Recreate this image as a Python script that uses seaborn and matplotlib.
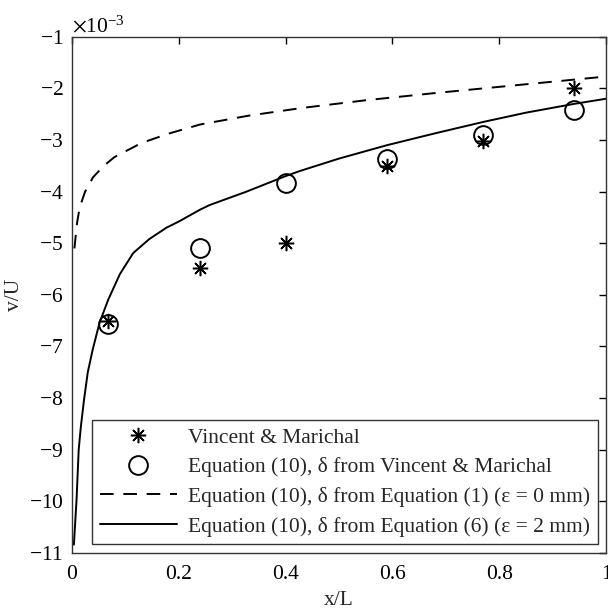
import numpy as np
import matplotlib
matplotlib.use("Agg")
import matplotlib.pyplot as plt
from matplotlib.ticker import ScalarFormatter
import seaborn as sns

# measured points (Vincent & Marichal) and Eq.(10) with their delta
x_meas = [0.068, 0.24, 0.40, 0.59, 0.77, 0.94]
y_star = [-6.50, -5.48, -4.99, -3.51, -3.01, -1.99]
y_circ = [-6.56, -5.09, -3.84, -3.37, -2.90, -2.41]

# Eq.(10), delta from Eq.(1), eps = 0 mm
x_eq1 = [0.005, 0.01, 0.015, 0.025, 0.04, 0.06, 0.08, 0.13, 0.18, 0.24,
         0.33, 0.43, 0.55, 0.68, 0.8, 0.9, 1.0]
y_eq1 = [-5.1, -4.6, -4.3, -4.0, -3.72, -3.5, -3.33, -3.06, -2.88, -2.70,
         -2.53, -2.38, -2.23, -2.09, -1.97, -1.87, -1.77]

# Eq.(10), delta from Eq.(6), eps = 2 mm
x_eq6 = [0.004, 0.009, 0.013, 0.017, 0.023, 0.03, 0.039, 0.052, 0.068, 0.09,
         0.115, 0.145, 0.177, 0.202, 0.24, 0.258, 0.327, 0.40, 0.427, 0.50,
         0.59, 0.68, 0.77, 0.85, 0.94, 1.0]
y_eq6 = [-10.84, -9.97, -9.0, -8.56, -8.03, -7.5, -7.07, -6.54, -6.10, -5.6,
         -5.19, -4.92, -4.70, -4.57, -4.35, -4.26, -4.0, -3.70, -3.60, -3.36,
         -3.10, -2.87, -2.65, -2.47, -2.30, -2.20]

scale = 1e-3
FS = 15.5

sns.set_theme(style="white")
plt.rcParams['font.family'] = ['Liberation Serif', 'DejaVu Serif']
plt.rcParams['mathtext.fontset'] = 'stix'
plt.rcParams['font.size'] = FS

fig = plt.figure(figsize=(6.08, 6.13), dpi=100)
ax = fig.add_axes([0.118, 0.098, 0.879, 0.842])

# markers
ax.plot(x_meas, np.array(y_star) * scale, linestyle='none',
        marker=(8, 2, 0), markersize=11, markeredgewidth=1.1,
        color='black', label='Vincent & Marichal')
ax.plot(x_meas, np.array(y_circ) * scale, linestyle='none',
        marker='o', markersize=13.5, markerfacecolor='none',
        markeredgecolor='black', markeredgewidth=1.4,
        label='Equation (10), δ from Vincent & Marichal')

# model curves
sns.lineplot(x=x_eq1, y=np.array(y_eq1) * scale, ax=ax, color='black',
             linewidth=1.4, sort=False,
             label='Equation (10), δ from Equation (1) (ε = 0 mm)')
ax.lines[-1].set_dashes((7, 5))
sns.lineplot(x=x_eq6, y=np.array(y_eq6) * scale, ax=ax, color='black',
             linewidth=1.4, sort=False,
             label='Equation (10), δ from Equation (6) (ε = 2 mm)')

ax.set_xlim(0, 1)
ax.set_ylim(-11e-3, -1e-3)
ax.set_xticks(np.arange(0, 1.01, 0.2))
ax.set_xticklabels(['0', '0.2', '0.4', '0.6', '0.8', '1'])
ax.set_yticks(np.arange(-11, -0.5, 1) * scale)
fmt = ScalarFormatter(useMathText=True)
fmt.set_powerlimits((-3, -3))
ax.yaxis.set_major_formatter(fmt)
ax.yaxis.get_offset_text().set_fontsize(FS)

ax.tick_params(direction='in', length=5, width=1, top=True, right=True,
               labelsize=FS, colors='black', pad=6)
ax.tick_params(axis='x', pad=9)
for s in ax.spines.values():
    s.set_color('#333333')
    s.set_linewidth(1.0)

ax.set_xlabel('x/L', fontsize=FS, labelpad=5)
ax.set_ylabel('v/U', fontsize=FS, labelpad=3)

leg = ax.legend(loc='lower right', frameon=True, fancybox=False,
                edgecolor='black', fontsize=FS, handlelength=3.6,
                borderaxespad=0.4, labelspacing=0.45, borderpad=0.35,
                handletextpad=0.5)
leg.get_frame().set_linewidth(1.0)

fig.savefig('out.png', dpi=100, facecolor='white')
